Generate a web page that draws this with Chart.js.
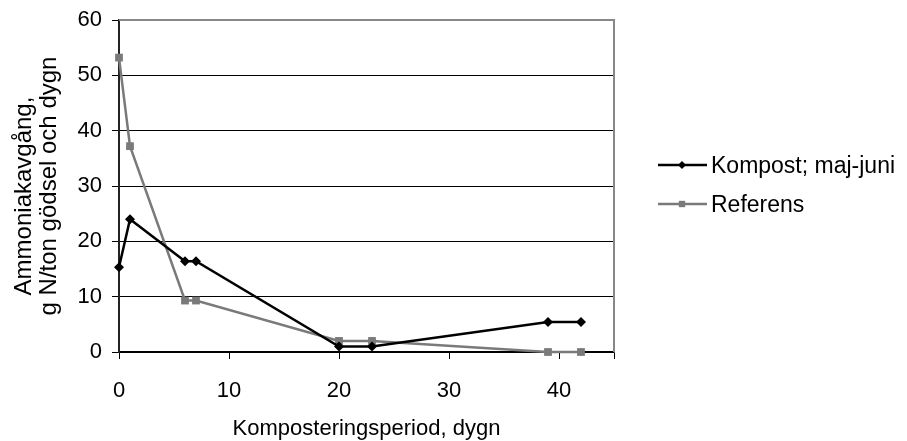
<!DOCTYPE html>
<html>
<head>
<meta charset="utf-8">
<script src="https://cdn.jsdelivr.net/npm/chart.js@4/dist/chart.umd.min.js"></script>
<style>
  html, body { margin: 0; padding: 0; background: #fff; }
  #wrap { width: 907px; height: 441px; }
</style>
</head>
<body>
<div id="wrap"><canvas id="chart" width="907" height="441"></canvas></div>
<script>
// Composting period (days) and ammonia emission per series
const days = [0, 1, 6, 7, 20, 23, 39, 42];
const kompostValues = [15.3, 24.0, 16.4, 16.4, 1.0, 1.0, 5.4, 5.4];
const referensValues = [53.2, 37.2, 9.3, 9.3, 2.0, 2.0, 0.0, 0.0];

const seriesNames = ['Kompost; maj-juni', 'Referens'];
const xTitle = 'Komposteringsperiod, dygn';
const yTitle = ['Ammoniakavgång,   ', 'g N/ton gödsel och dygn'];

const FONT = '"Liberation Sans", Arial, Helvetica, sans-serif';
const FSIZE = 22;
const GRAY = '#7a7a7a';

const toPoints = vals => days.map((d, i) => ({ x: d, y: vals[i] }));

// gray frame on the top and right of the plot area
const frame = {
  id: 'frame',
  beforeDatasetsDraw(chart) {
    const { ctx, chartArea: a } = chart;
    ctx.save();
    ctx.strokeStyle = '#888';
    ctx.lineWidth = 2;
    ctx.beginPath();
    ctx.moveTo(a.left, a.top);
    ctx.lineTo(a.right, a.top);
    ctx.lineTo(a.right, a.bottom);
    ctx.stroke();
    ctx.restore();
  }
};

// legend to the right: line with marker in the middle, then label
const sideLegend = {
  id: 'sideLegend',
  afterDraw(chart) {
    const { ctx } = chart;
    const rows = [165, 204];
    ctx.save();
    chart.data.datasets.forEach((ds, i) => {
      const y = rows[i];
      ctx.strokeStyle = ds.borderColor;
      ctx.lineWidth = ds.borderWidth;
      ctx.beginPath();
      ctx.moveTo(658, y);
      ctx.lineTo(707, y);
      ctx.stroke();
      ctx.fillStyle = ds.pointBackgroundColor;
      Chart.helpers.drawPoint(ctx, { pointStyle: ds.pointStyle, rotation: 0, radius: ds.pointRadius - 1, borderWidth: 0 }, 682, y);
      ctx.fillStyle = '#000';
      ctx.font = '23px ' + FONT;
      ctx.textBaseline = 'middle';
      ctx.textAlign = 'left';
      ctx.fillText(ds.label, 711, y + 2);
    });
    ctx.restore();
  }
};

new Chart(document.getElementById('chart'), {
  type: 'scatter',
  data: {
    datasets: [
      {
        label: seriesNames[0],
        data: toPoints(kompostValues),
        showLine: true,
        borderColor: '#000',
        backgroundColor: '#000',
        pointBackgroundColor: '#000',
        pointBorderWidth: 0,
        borderWidth: 2.5,
        pointStyle: 'rectRot',
        pointRadius: 5,
        clip: false,
        order: 1
      },
      {
        label: seriesNames[1],
        data: toPoints(referensValues),
        showLine: true,
        borderColor: GRAY,
        backgroundColor: GRAY,
        pointBackgroundColor: GRAY,
        pointBorderWidth: 0,
        borderWidth: 2.5,
        pointStyle: 'rect',
        pointRadius: 5.5,
        clip: false,
        order: 2
      }
    ]
  },
  options: {
    responsive: false,
    animation: false,
    layout: { padding: { top: 20, right: 293, left: 0, bottom: 0 } },
    plugins: {
      legend: { display: false },
      tooltip: { enabled: false }
    },
    scales: {
      x: {
        type: 'linear',
        min: 0,
        max: 45,
        afterFit: s => { s.height = 89; s.paddingLeft = 0; s.paddingRight = 0; },
        ticks: {
          stepSize: 10,
          padding: 19,
          color: '#000',
          font: { family: FONT, size: FSIZE },
          callback: v => (v % 10 === 0 && v <= 40 ? v : '')
        },
        grid: { drawOnChartArea: false, drawTicks: true, tickLength: 7, color: '#000', lineWidth: 1 },
        border: { color: '#000', width: 1.5 },
        title: {
          display: true,
          text: xTitle,
          color: '#000',
          font: { family: FONT, size: FSIZE },
          padding: { top: 0, bottom: -1 }
        }
      },
      y: {
        min: 0,
        max: 60,
        afterFit: s => { s.width = 119; s.paddingTop = 0; s.paddingBottom = 0; },
        ticks: {
          stepSize: 10,
          padding: 10,
          color: '#000',
          font: { family: FONT, size: FSIZE }
        },
        grid: { color: '#000', lineWidth: 1, tickLength: 7 },
        border: { color: '#222', width: 2 },
        title: {
          display: true,
          text: yTitle,
          color: '#000',
          font: { family: FONT, size: 24, lineHeight: '25px' },
          padding: { top: 12, bottom: 0 }
        }
      }
    }
  },
  plugins: [frame, sideLegend]
});
</script>
</body>
</html>
